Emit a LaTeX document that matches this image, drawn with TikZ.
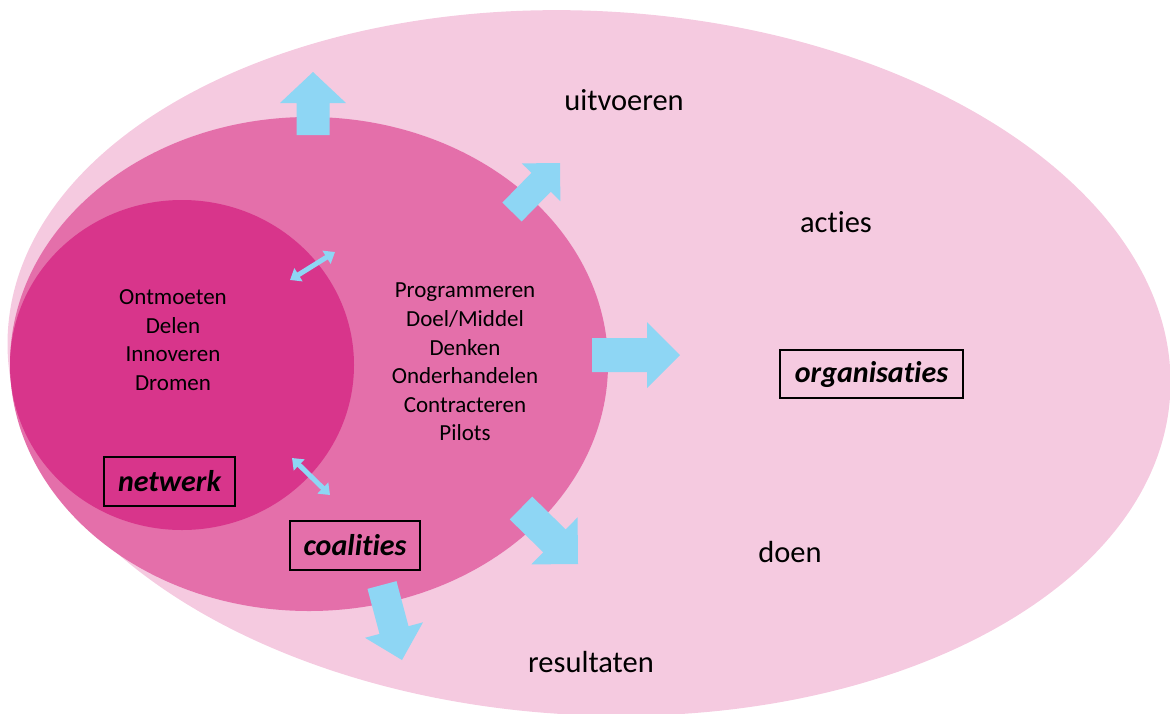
\documentclass[tikz,border=0pt]{standalone}
\usepackage{fontspec}
\setmainfont{Carlito}[Ligatures={NoCommon,NoContextual}]
\usetikzlibrary{calc,arrows.meta}
\definecolor{outerpink}{HTML}{F5CAE0}
\definecolor{midpink}{HTML}{E46FAA}
\definecolor{innerpink}{HTML}{D8358B}
\definecolor{arrowblue}{HTML}{8ED6F4}
\tikzset{
  bigtext/.style={font=\fontsize{30.5}{36}\selectfont, anchor=base},
  listtext/.style={font=\fontsize{23}{28.6}\selectfont, align=center},
  labelbox/.style={draw=black, line width=1.3pt, font=\fontsize{30}{36}\selectfont\bfseries\itshape, inner sep=0pt},
  dbl/.style={draw=arrowblue, line width=5pt, {Triangle[width=15pt,length=10pt]}-{Triangle[width=15pt,length=10pt]}}
}
% block arrow: start, end, half shaft width, half head width, head length
\newcommand{\blockarr}[5]{%
  \fill[arrowblue]
    ($(#1)!#3!90:(#2)$) --
    ($($(#2)!#5!(#1)$)!#3!-90:(#1)$) --
    ($($(#2)!#5!(#1)$)!#4!-90:(#1)$) --
    (#2) --
    ($($(#2)!#5!(#1)$)!#4!90:(#1)$) --
    ($($(#2)!#5!(#1)$)!#3!90:(#1)$) --
    ($(#1)!#3!-90:(#2)$) -- cycle;}
\begin{document}
\begin{tikzpicture}[x=1pt,y=-1pt]
\useasboundingbox (0,0) rectangle (1170,713);
% ellipses
\fill[outerpink, rotate around={-3:(589,363)}] (589,363) ellipse [x radius=582, y radius=352];
\fill[midpink] (309,364) ellipse [x radius=299, y radius=247];
\fill[innerpink] (182,365) ellipse [x radius=172, y radius=165];

% arrow end points
\coordinate (upS) at (313,135);   \coordinate (upE) at (313,72);
\coordinate (neS) at (512,212);   \coordinate (neE) at (560,163);
\coordinate (rS) at (592,355);    \coordinate (rE) at (680,355);
\coordinate (seS) at (521,508);   \coordinate (seE) at (578,564);
\coordinate (dS) at (382,585);    \coordinate (dE) at (402,660);
\coordinate (d1a) at (290,280);   \coordinate (d1b) at (335,252);
\coordinate (d2a) at (292,458);   \coordinate (d2b) at (330,495);

\blockarr{upS}{upE}{16.5pt}{33pt}{31pt}
\blockarr{neS}{neE}{13.5pt}{27pt}{27pt}
\blockarr{rS}{rE}{17pt}{33pt}{33pt}
\blockarr{seS}{seE}{16pt}{33pt}{33pt}
\blockarr{dS}{dE}{15pt}{30pt}{31pt}
\draw[dbl] (d1a) -- (d1b);
\draw[dbl] (d2a) -- (d2b);

% texts
\node[listtext] (inner) at (173,340) {Ontmoeten\\Delen\\Innoveren\\Dromen};
\node[listtext] (middle) at (465,362) {Programmeren\\Doel/Middel\\Denken\\Onderhandelen\\Contracteren\\Pilots};
\node[bigtext] (uit) at (624,110) {uitvoeren};
\node[bigtext] (act) at (836,232) {acties};
\node[bigtext] (doen) at (790,562) {doen};
\node[bigtext] (res) at (591,672) {resultaten};
\node[labelbox, minimum width=183pt, minimum height=48pt] (org) at (871.5,374) {organisaties};
\node[labelbox, minimum width=131pt, minimum height=49pt] (net) at (169.5,481.5) {netwerk};
\node[labelbox, minimum width=130pt, minimum height=49pt] (coal) at (355,545.5) {coalities};
\end{tikzpicture}
\end{document}
